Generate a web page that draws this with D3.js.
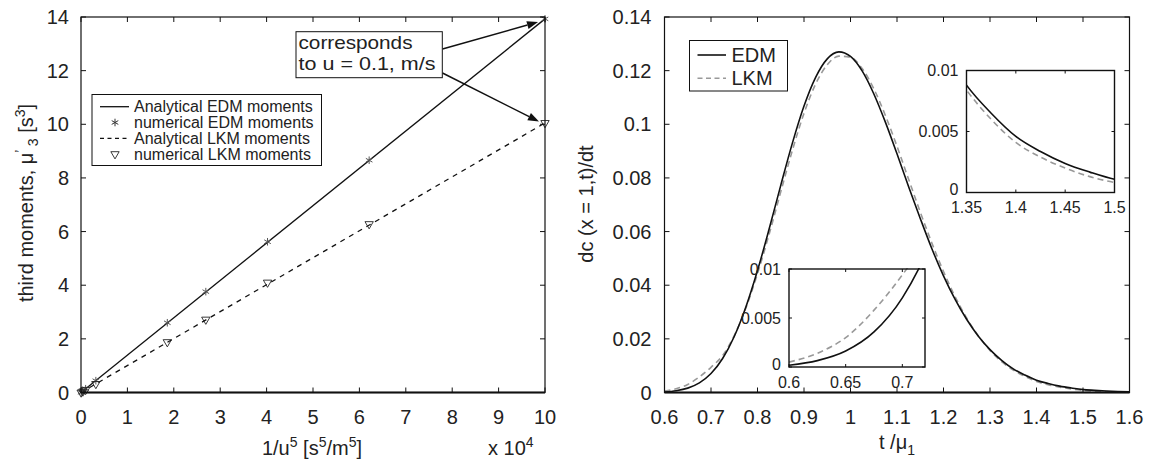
<!DOCTYPE html>
<html>
<head>
<meta charset="utf-8">
<script src="https://cdn.jsdelivr.net/npm/d3@7"></script>
<style>
  body { margin: 0; background: #fff; }
  svg { display: block; font-family: "Liberation Sans", Arial, Helvetica, sans-serif; }
</style>
</head>
<body>
<svg id="chart" width="1151" height="464"></svg>
<script>
// left panel: third moments vs 1/u^5 (x in units of 10^4)
const invU5 = [0.003, 0.04, 0.1, 0.32, 1.86, 2.69, 4.02, 6.21, 10.0];
const numEDM = [0.004, 0.056, 0.14, 0.44, 2.6, 3.76, 5.62, 8.66, 13.93];
const numLKM = [0.003, 0.04, 0.1, 0.32, 1.88, 2.72, 4.1, 6.28, 10.05];
const anaX = [0, 10];
const anaEDM = [0, 13.93];
const anaLKM = [0, 10.05];
const leftXTicks = [0, 1, 2, 3, 4, 5, 6, 7, 8, 9, 10];
const leftYTicks = [0, 2, 4, 6, 8, 10, 12, 14];

// right panel: dc/dt at x = 1 vs t/mu1
const tVals = [0.6, 0.625, 0.65, 0.675, 0.7, 0.725, 0.75, 0.775, 0.8, 0.825,
  0.85, 0.875, 0.9, 0.925, 0.95, 0.975, 1.0, 1.025, 1.05, 1.075,
  1.1, 1.125, 1.15, 1.175, 1.2, 1.225, 1.25, 1.275, 1.3, 1.325,
  1.35, 1.375, 1.4, 1.425, 1.45, 1.475, 1.5, 1.525, 1.55, 1.575, 1.6];
const edm = [0.00018, 0.00065, 0.00163, 0.00358, 0.00706, 0.01267, 0.02088, 0.03188, 0.04546, 0.06094,
  0.07723, 0.09297, 0.1068, 0.1175, 0.1244, 0.1270, 0.1253, 0.1199, 0.1114, 0.1008,
  0.0890, 0.0767, 0.0649, 0.0536, 0.0435, 0.0347, 0.0272, 0.0210, 0.0160, 0.0120,
  0.0088, 0.0065, 0.0046, 0.00336, 0.00238, 0.00167, 0.00108, 0.00080, 0.00056, 0.00038, 0.00025];
const lkm = [0.0005, 0.0014, 0.0030, 0.0058, 0.0094, 0.0138, 0.0212, 0.0315, 0.0443, 0.0590,
  0.0748, 0.0903, 0.1041, 0.1150, 0.1222, 0.1254, 0.1250, 0.1208, 0.1133, 0.1033,
  0.0918, 0.0795, 0.0673, 0.0557, 0.0451, 0.0357, 0.0277, 0.0211, 0.0157, 0.0115,
  0.0084, 0.0060, 0.0041, 0.0029, 0.0020, 0.0013, 0.00082, 0.00052, 0.00032, 0.00019, 0.00011];
const rightXTicks = [0.6, 0.7, 0.8, 0.9, 1, 1.1, 1.2, 1.3, 1.4, 1.5, 1.6];
const rightYTicks = [0, 0.02, 0.04, 0.06, 0.08, 0.1, 0.12, 0.14];
const insetLowXTicks = [0.6, 0.65, 0.7];
const insetHighXTicks = [1.35, 1.4, 1.45, 1.5];
const insetYTicks = [0, 0.005, 0.01];

const svg = d3.select('#chart');
const FONT = 20;

// draws a boxed axes with inward ticks on all four sides
function frame(g, x, y, xt, yt, opt){
  const [x0, x1] = x.range(), [y1, y0] = y.range();
  const tl = opt.tick, fs = opt.fs;
  g.append('rect').attr('x', x0).attr('y', y0).attr('width', x1-x0).attr('height', y1-y0)
    .attr('fill', 'none').attr('stroke', '#111').attr('stroke-width', opt.sw);
  if(opt.bottomW) g.append('line').attr('x1', x0).attr('x2', x1).attr('y1', y1).attr('y2', y1)
    .attr('stroke', '#111').attr('stroke-width', opt.bottomW);
  xt.forEach(v=>{
    const px = x(v);
    g.append('line').attr('x1', px).attr('x2', px).attr('y1', y1).attr('y2', y1-tl).attr('stroke', '#111');
    g.append('line').attr('x1', px).attr('x2', px).attr('y1', y0).attr('y2', y0+tl).attr('stroke', '#111');
    g.append('text').attr('x', px).attr('y', y1 + opt.xlab).attr('text-anchor', 'middle')
      .attr('font-size', fs).attr('fill', '#222').text(v);
  });
  yt.forEach(v=>{
    const py = y(v);
    g.append('line').attr('x1', x0).attr('x2', x0+tl).attr('y1', py).attr('y2', py).attr('stroke', '#111');
    g.append('line').attr('x1', x1).attr('x2', x1-tl).attr('y1', py).attr('y2', py).attr('stroke', '#111');
    g.append('text').attr('x', x0 - opt.ylab).attr('y', py + (v === 0 ? (opt.zeroUp || 0) : 0))
      .attr('dy', '0.36em').attr('text-anchor', 'end')
      .attr('font-size', fs).attr('fill', '#222').text(v);
  });
}

function clip(id, x, y){
  const [x0, x1] = x.range(), [y1, y0] = y.range();
  svg.append('clipPath').attr('id', id).append('rect')
    .attr('x', x0).attr('y', y0-1).attr('width', x1-x0).attr('height', y1-y0+1);
  return 'url(#' + id + ')';
}

// ---------- left panel ----------
const xL = d3.scaleLinear().domain([0, 10]).range([81, 545]);
const yL = d3.scaleLinear().domain([0, 14]).range([392.5, 17]);
const gL = svg.append('g');
const lineL = (xs, ys) => d3.line().x((d,i)=>xL(xs[i])).y((d,i)=>yL(ys[i]))(xs);

gL.append('path').attr('d', lineL(anaX, anaEDM)).attr('fill', 'none').attr('stroke', '#111').attr('stroke-width', 1.3);
gL.append('path').attr('d', lineL(anaX, anaLKM)).attr('fill', 'none').attr('stroke', '#111')
  .attr('stroke-width', 1.3).attr('stroke-dasharray', '5,5');

const star = d3.symbol().type(d3.symbolAsterisk).size(40);
const tri = d3.symbol().type(d3.symbolTriangle).size(30);
gL.selectAll('.st').data(invU5).enter().append('path')
  .attr('d', star).attr('transform', (d,i)=>'translate(' + xL(d) + ',' + yL(numEDM[i]) + ')')
  .attr('fill', 'none').attr('stroke', '#555').attr('stroke-width', 1);
gL.selectAll('.tr').data(invU5).enter().append('path')
  .attr('d', tri).attr('transform', (d,i)=>'translate(' + xL(d) + ',' + yL(numLKM[i]) + ') rotate(180)')
  .attr('fill', 'none').attr('stroke', '#222').attr('stroke-width', 0.9);

frame(gL, xL, yL, leftXTicks, leftYTicks, {tick: 5, fs: FONT, sw: 1.2, bottomW: 2.2, xlab: 31, ylab: 12});

// legend
const lg = gL.append('g');
lg.append('rect').attr('x', 92).attr('y', 94.5).attr('width', 229.5).attr('height', 71)
  .attr('fill', '#fff').attr('stroke', '#111').attr('stroke-width', 1);
const legItems = [
  {label: 'Analytical EDM moments', kind: 'solid'},
  {label: 'numerical EDM moments', kind: 'star'},
  {label: 'Analytical LKM moments', kind: 'dash'},
  {label: 'numerical LKM moments', kind: 'tri'}
];
legItems.forEach((it, i)=>{
  const cy = 106.7 + i*15.8;
  if(it.kind === 'solid' || it.kind === 'dash'){
    lg.append('line').attr('x1', 100).attr('x2', 129).attr('y1', cy).attr('y2', cy)
      .attr('stroke', '#111').attr('stroke-width', 1.3).attr('stroke-dasharray', it.kind === 'dash' ? '4,3.5' : null);
  } else if(it.kind === 'star'){
    lg.append('path').attr('d', star).attr('transform', 'translate(115,' + cy + ')')
      .attr('fill', 'none').attr('stroke', '#333');
  } else {
    lg.append('path').attr('d', tri).attr('transform', 'translate(115,' + cy + ') rotate(180)')
      .attr('fill', 'none').attr('stroke', '#222').attr('stroke-width', 0.9);
  }
  lg.append('text').attr('x', 134).attr('y', cy + 5.5).attr('font-size', 16).attr('fill', '#222').text(it.label);
});

// annotation
const ann = gL.append('g');
function arrow(x1, y1, x2, y2){
  const a = Math.atan2(y2-y1, x2-x1), L = 11, W = 4;
  const bx = x2 - L*Math.cos(a), by = y2 - L*Math.sin(a);
  ann.append('line').attr('x1', x1).attr('y1', y1).attr('x2', bx).attr('y2', by)
    .attr('stroke', '#111').attr('stroke-width', 1.5);
  ann.append('path').attr('d', 'M' + x2 + ',' + y2 +
    'L' + (bx + W*Math.sin(a)) + ',' + (by - W*Math.cos(a)) +
    'L' + (bx - W*Math.sin(a)) + ',' + (by + W*Math.cos(a)) + 'Z').attr('fill', '#111');
}
arrow(442.5, 49, xL(9.85), yL(13.81));
arrow(442.5, 73, xL(9.87), yL(10.1));
ann.append('rect').attr('x', 296).attr('y', 31.7).attr('width', 146.3).attr('height', 46)
  .attr('fill', '#fff').attr('stroke', '#111').attr('stroke-width', 1);
ann.append('text').attr('x', 298.5).attr('y', 49).attr('font-size', 18.5).attr('fill', '#222')
  .attr('textLength', 114).attr('lengthAdjust', 'spacingAndGlyphs').text('corresponds');
ann.append('text').attr('x', 298.5).attr('y', 70).attr('font-size', 18.5).attr('fill', '#222')
  .attr('textLength', 137).attr('lengthAdjust', 'spacingAndGlyphs').text('to u = 0.1, m/s');

// axis labels
const yl = gL.append('text').attr('transform', 'translate(33,203) rotate(-90)').attr('text-anchor', 'middle')
  .attr('font-size', FONT).attr('fill', '#222');
yl.append('tspan').text('third moments, \u03bc');
yl.append('tspan').attr('dy', -8).attr('font-size', 14).text('\u2019');
yl.append('tspan').attr('dy', 13).attr('font-size', 14).text(' 3');
yl.append('tspan').attr('dy', -5).text(' [s');
yl.append('tspan').attr('dy', -8).attr('font-size', 14).text('3');
yl.append('tspan').attr('dy', 8).text(']');

const xl = gL.append('text').attr('x', 312).attr('y', 455).attr('text-anchor', 'middle')
  .attr('font-size', FONT).attr('fill', '#222');
xl.append('tspan').text('1/u');
xl.append('tspan').attr('dy', -8).attr('font-size', 14).text('5');
xl.append('tspan').attr('dy', 8).text(' [s');
xl.append('tspan').attr('dy', -8).attr('font-size', 14).text('5');
xl.append('tspan').attr('dy', 8).text('/m');
xl.append('tspan').attr('dy', -8).attr('font-size', 14).text('5');
xl.append('tspan').attr('dy', 8).text(']');

const mult = gL.append('text').attr('x', 488).attr('y', 455).attr('font-size', FONT).attr('fill', '#222');
mult.append('tspan').text('x 10');
mult.append('tspan').attr('dy', -8).attr('font-size', 14).text('4');

// ---------- right panel ----------
const xR = d3.scaleLinear().domain([0.6, 1.6]).range([664.5, 1129.5]);
const yR = d3.scaleLinear().domain([0, 0.14]).range([392.5, 17]);
const gR = svg.append('g');

function curves(g, x, y, cp, w){
  const ln = ys => d3.line().curve(d3.curveMonotoneX).x((d,i)=>x(tVals[i])).y((d,i)=>y(ys[i]))(tVals);
  const c = g.append('g').attr('clip-path', cp);
  c.append('path').attr('d', ln(lkm)).attr('fill', 'none').attr('stroke', '#999')
    .attr('stroke-width', w).attr('stroke-dasharray', '6,4');
  c.append('path').attr('d', ln(edm)).attr('fill', 'none').attr('stroke', '#111').attr('stroke-width', w);
}

curves(gR, xR, yR, clip('cR', xR, yR), 1.6);
frame(gR, xR, yR, rightXTicks, rightYTicks, {tick: 5, fs: FONT, sw: 1.2, bottomW: 2.2, xlab: 31, ylab: 13});

// legend
const lr = gR.append('g');
lr.append('rect').attr('x', 689.5).attr('y', 40.5).attr('width', 98).attr('height', 50.5)
  .attr('fill', '#fff').attr('stroke', '#111').attr('stroke-width', 1);
[{label: 'EDM', col: '#111', dash: null}, {label: 'LKM', col: '#999', dash: '5,3.5'}].forEach((it, i)=>{
  const cy = 55 + i*23.3;
  lr.append('line').attr('x1', 697.5).attr('x2', 726).attr('y1', cy).attr('y2', cy)
    .attr('stroke', it.col).attr('stroke-width', 1.6).attr('stroke-dasharray', it.dash);
  lr.append('text').attr('x', 731.5).attr('y', cy + 7).attr('font-size', FONT).attr('fill', '#222').text(it.label);
});

// insets
function inset(xd, yd, rx, ry, xt, id){
  const x = d3.scaleLinear().domain(xd).range(rx);
  const y = d3.scaleLinear().domain(yd).range(ry);
  const g = svg.append('g');
  g.append('rect').attr('x', rx[0]).attr('y', ry[1]).attr('width', rx[1]-rx[0]).attr('height', ry[0]-ry[1]).attr('fill', '#fff');
  curves(g, x, y, clip(id, x, y), 1.6);
  frame(g, x, y, xt, insetYTicks, {tick: 3, fs: 16, sw: 1.4, xlab: 20.5, ylab: 8, zeroUp: -3});
  return g;
}
inset([0.6, 0.72], [0, 0.01], [789, 925], [367, 269], insetLowXTicks, 'cA');
inset([1.35, 1.5], [0, 0.01], [966.5, 1114.5], [192.5, 70.5], insetHighXTicks, 'cB');

gR.append('text').attr('transform', 'translate(593,204) rotate(-90)').attr('text-anchor', 'middle')
  .attr('font-size', FONT).attr('fill', '#222').text('dc (x = 1,t)/dt');

const xr = gR.append('text').attr('x', 897).attr('y', 449).attr('text-anchor', 'middle')
  .attr('font-size', FONT).attr('fill', '#222');
xr.append('tspan').text('t /\u03bc');
xr.append('tspan').attr('dy', 6).attr('font-size', 14).text('1');
</script>
</body>
</html>
